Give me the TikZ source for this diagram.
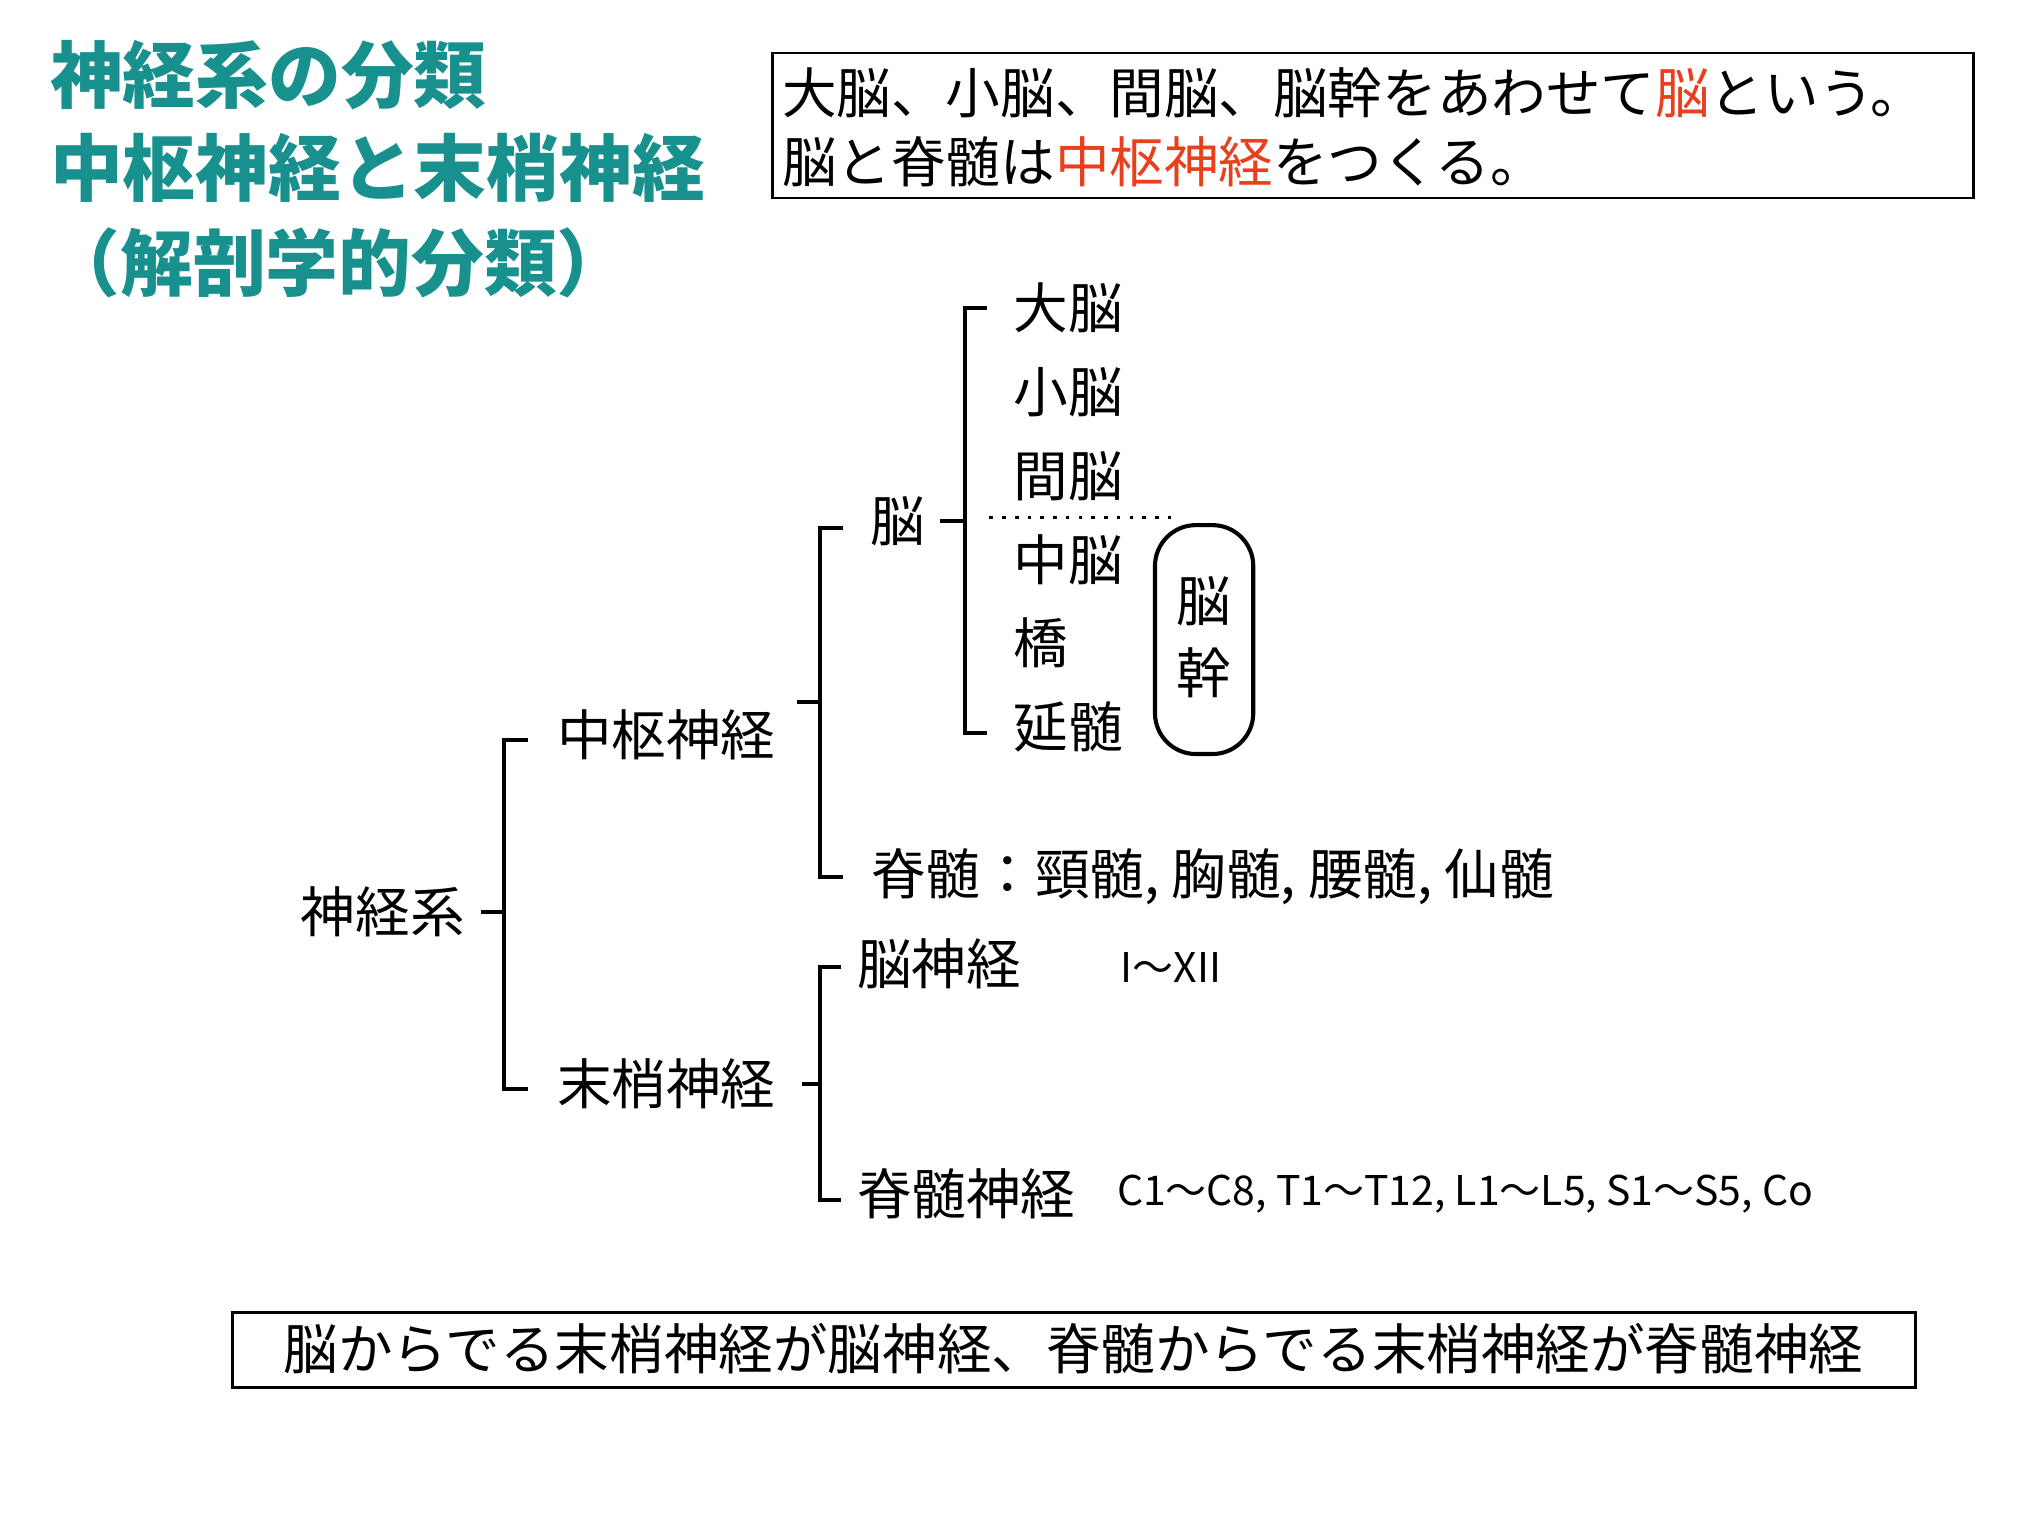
\documentclass[tikz,border=0pt]{standalone}
\usepackage{fontspec}
\setmainfont{Noto Sans CJK JP}
\usetikzlibrary{positioning}
\definecolor{titleteal}{HTML}{17908E}
\definecolor{keyred}{HTML}{E8401C}
\tikzset{
  lbl/.style={inner sep=0pt, font=\fontsize{12}{14}\selectfont},
  sml/.style={inner sep=0pt, font=\fontsize{9}{11}\selectfont},
  ttl/.style={inner sep=0pt, anchor=west, text=titleteal, font=\fontsize{16}{19}\selectfont\bfseries},
  brk/.style={line width=0.9pt},
  infobox/.style={draw, line width=0.6pt, inner sep=0pt}
}
\begin{document}
\begin{tikzpicture}[x=0.01cm,y=-0.01cm]
  \useasboundingbox (0,0) rectangle (1568,1175);
  % title
  \node[ttl] (t1) at (38,58) {神経系の分類};
  \node[ttl] (t2) at (38,130) {中枢神経と末梢神経};
  \node[ttl] (t3) at (36,203) {（解剖学的分類）};
  % top note
  \draw[infobox] (597,41) rectangle (1526,153);
  \node[lbl, anchor=west] (n1) at (604,72) {大脳、小脳、間脳、脳幹をあわせて\textcolor{keyred}{脳}という。};
  \node[lbl, anchor=west] (n2) at (604,125) {脳と脊髄は\textcolor{keyred}{中枢神経}をつくる。};
  % brain parts
  \node[lbl, anchor=west] (daino) at (783,238) {大脳};
  \node[lbl, anchor=west] (shono) at (783,303) {小脳};
  \node[lbl, anchor=west] (kanno) at (783,368) {間脳};
  \node[lbl, anchor=west] (chuno) at (783,433) {中脳};
  \node[lbl, anchor=west] (kyo) at (783,497) {橋};
  \node[lbl, anchor=west] (enzui) at (783,562) {延髄};
  \draw[dotted, line width=0.8pt] (765,400) -- (907,400);
  \draw[line width=0.9pt, rounded corners=9pt] (893,406) rectangle (969,583);
  \node[lbl] (nokan1) at (931,465) {脳};
  \node[lbl] (nokan2) at (931,520) {幹};
  \node[lbl, anchor=west] (no) at (672,403) {脳};
  \draw[brk] (763,238) -- (746,238) -- (746,567) -- (763,567);
  \draw[brk] (746,403) -- (727,403);
  % central
  \node[lbl, anchor=west] (chusu) at (430,568) {中枢神経};
  \node[lbl, anchor=west] (sekizui) at (673,678) {脊髄：頸髄, 胸髄, 腰髄, 仙髄};
  \draw[brk] (652,408) -- (634,408) -- (634,678) -- (652,678);
  \draw[brk] (634,543) -- (616,543);
  % root
  \node[lbl, anchor=west] (shinkei) at (232,705) {神経系};
  \draw[brk] (408,572) -- (390,572) -- (390,842) -- (408,842);
  \draw[brk] (390,705) -- (372,705);
  % peripheral
  \node[lbl, anchor=west] (massho) at (430,838) {末梢神経};
  \node[lbl, anchor=west] (noshin) at (662,745) {脳神経};
  \node[sml, anchor=west] (noshinr) at (866,748) {I〜XII};
  \node[lbl, anchor=west] (sekishin) at (662,923) {脊髄神経};
  \node[sml, anchor=west] (sekishinr) at (863,923) {C1〜C8, T1〜T12, L1〜L5, S1〜S5, Co};
  \draw[brk] (650,748) -- (634,748) -- (634,928) -- (650,928);
  \draw[brk] (634,838) -- (620,838);
  % bottom note
  \draw[infobox] (180,1015) rectangle (1481,1073);
  \node[lbl] (bottom) at (830,1043) {脳からでる末梢神経が脳神経、脊髄からでる末梢神経が脊髄神経};
\end{tikzpicture}
\end{document}
